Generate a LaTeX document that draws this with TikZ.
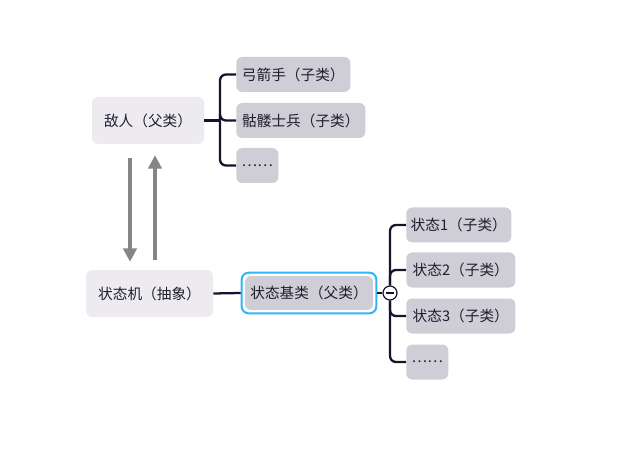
\documentclass[tikz,border=0pt]{standalone}
\usepackage{fontspec}
\setmainfont{Noto Sans CJK SC}
\usetikzlibrary{arrows.meta, positioning, fit}
\definecolor{NodeLight}{HTML}{EDEBEF}
\definecolor{NodeGray}{HTML}{CFCED6}
\definecolor{LinkNavy}{HTML}{14142E}
\definecolor{ArrowGray}{HTML}{858585}
\definecolor{SelectBlue}{HTML}{2DB7F5}
\definecolor{TextDark}{HTML}{1E1E2E}

\begin{document}
\begin{tikzpicture}[x=0.75pt, y=-0.75pt,
  box/.style={rounded corners=4.5pt, text=TextDark, inner sep=0pt,
    font=\fontsize{11}{12}\selectfont},
  parentbox/.style={box, fill=NodeLight, minimum height=35.25pt},
  childbox/.style={box, fill=NodeGray, minimum height=26.25pt},
  selframe/.style={draw=SelectBlue, line width=1.5pt, rounded corners=5pt, inner sep=2.25pt},
  link/.style={draw=LinkNavy, line width=1.7pt, rounded corners=4.5pt},
  flowarrow/.style={draw=ArrowGray, line width=2.4pt,
    -{Triangle[length=10pt, width=10pt]}},
  collapse/.style={circle, draw=LinkNavy, fill=white, line width=0.9pt,
    minimum size=10.5pt, inner sep=0pt,
    path picture={\draw[LinkNavy, line width=0.8pt]
      ([xshift=2pt]path picture bounding box.west) --
      ([xshift=-2pt]path picture bounding box.east);}}]
\useasboundingbox (0,0) rectangle (634,459);

% --- Enemy and its subclasses ---
\node[parentbox, minimum width=84pt] (enemy) at (148,120.5) {敌人（父类）};
\node[childbox, minimum width=85.5pt, anchor=west] (archer) at (236,74.5) {弓箭手（子类）};
\node[childbox, minimum width=96.75pt, anchor=west] (skeleton) at (236,120.5) {骷髅士兵（子类）};
\node[childbox, minimum width=31.5pt, anchor=west] (enemymore) at (236,165.5) {……};
\coordinate (enemyfork) at (220,120.5);
\draw[link] (enemy.east) -- (enemyfork);
\foreach \c in {archer, skeleton, enemymore}
  \draw[link] (enemyfork) |- (\c.west);

% --- State machine ---
\node[parentbox, minimum width=95.25pt] (machine) at (149.5,293.5) {状态机（抽象）};
\draw[flowarrow, shorten <=10.5pt, shorten >=6pt]
  ([xshift=-13.5pt]enemy.south) -- ([xshift=-13.5pt]enemy.south |- machine.north);
\draw[flowarrow, shorten <=7.5pt, shorten >=8.25pt]
  ([xshift=5.25pt]enemy.south |- machine.north) -- ([xshift=5.25pt]enemy.south);

% --- State base class and its subclasses ---
\node[childbox, minimum width=96pt, minimum height=25.5pt] (base) at (309,293) {状态基类（父类）};
\node[selframe, fit=(base)] (baseframe) {};
\draw[link] (machine.east) -- (baseframe.west);
\node[collapse] (toggle) at (390,293) {};
\draw[link] (baseframe.east) -- (toggle);
\node[childbox, minimum width=78.75pt, anchor=west] (state1) at (406,225) {状态1（子类）};
\node[childbox, minimum width=81.75pt, anchor=west] (state2) at (406,270) {状态2（子类）};
\node[childbox, minimum width=81.75pt, anchor=west] (state3) at (406,316) {状态3（子类）};
\node[childbox, minimum width=31.5pt, anchor=west] (statemore) at (406,362) {……};
\foreach \c in {state1, state2, state3, statemore}
  \draw[link] (toggle) |- (\c.west);
\end{tikzpicture}
\end{document}
